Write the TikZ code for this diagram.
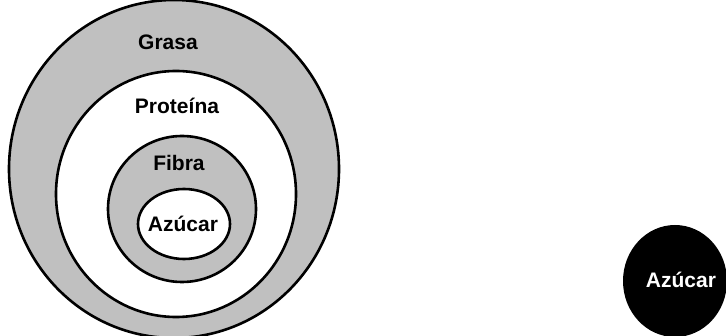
\documentclass[tikz,border=0pt]{standalone}
\usepackage{fontspec}
\setmainfont{Liberation Sans}
\usetikzlibrary{shapes.geometric}
\definecolor{ringgray}{HTML}{C0C0C0}

\begin{document}
\begin{tikzpicture}[
        x=1pt, y=-1pt,
        ring/.style={ellipse, draw=black, line width=2.6pt, inner sep=0pt},
        lbl/.style={font=\bfseries\fontsize{21}{24}\selectfont, inner sep=0pt}
    ]
    \useasboundingbox (0,0) rectangle (726,336);

    % nested rings
    \node (grasa) [ring, fill=ringgray, minimum width=330pt, minimum height=338pt] at (174,169) {};
    \node (proteina) [ring, fill=white, minimum width=240pt, minimum height=246pt] at (176,194) {};
    \node (fibra) [ring, fill=ringgray, minimum width=148pt, minimum height=146pt] at (182,209) {};
    \node (azucar) [ring, fill=white, minimum width=92pt, minimum height=70pt] at (184,224) {};

    \node (grasaText) [lbl] at (168,42) {Grasa};
    \node (proteinaText) [lbl] at (177,106) {Proteína};
    \node (fibraText) [lbl] at (179,163) {Fibra};
    \node (azucarText) [lbl] at (183,224) {Azúcar};

    % single black disc
    \node (solo) [ellipse, fill=black, minimum width=104pt, minimum height=112pt] at (675,281) {};
    \node (soloText) [lbl, text=white] at (681,280) {Azúcar};
\end{tikzpicture}
\end{document}
